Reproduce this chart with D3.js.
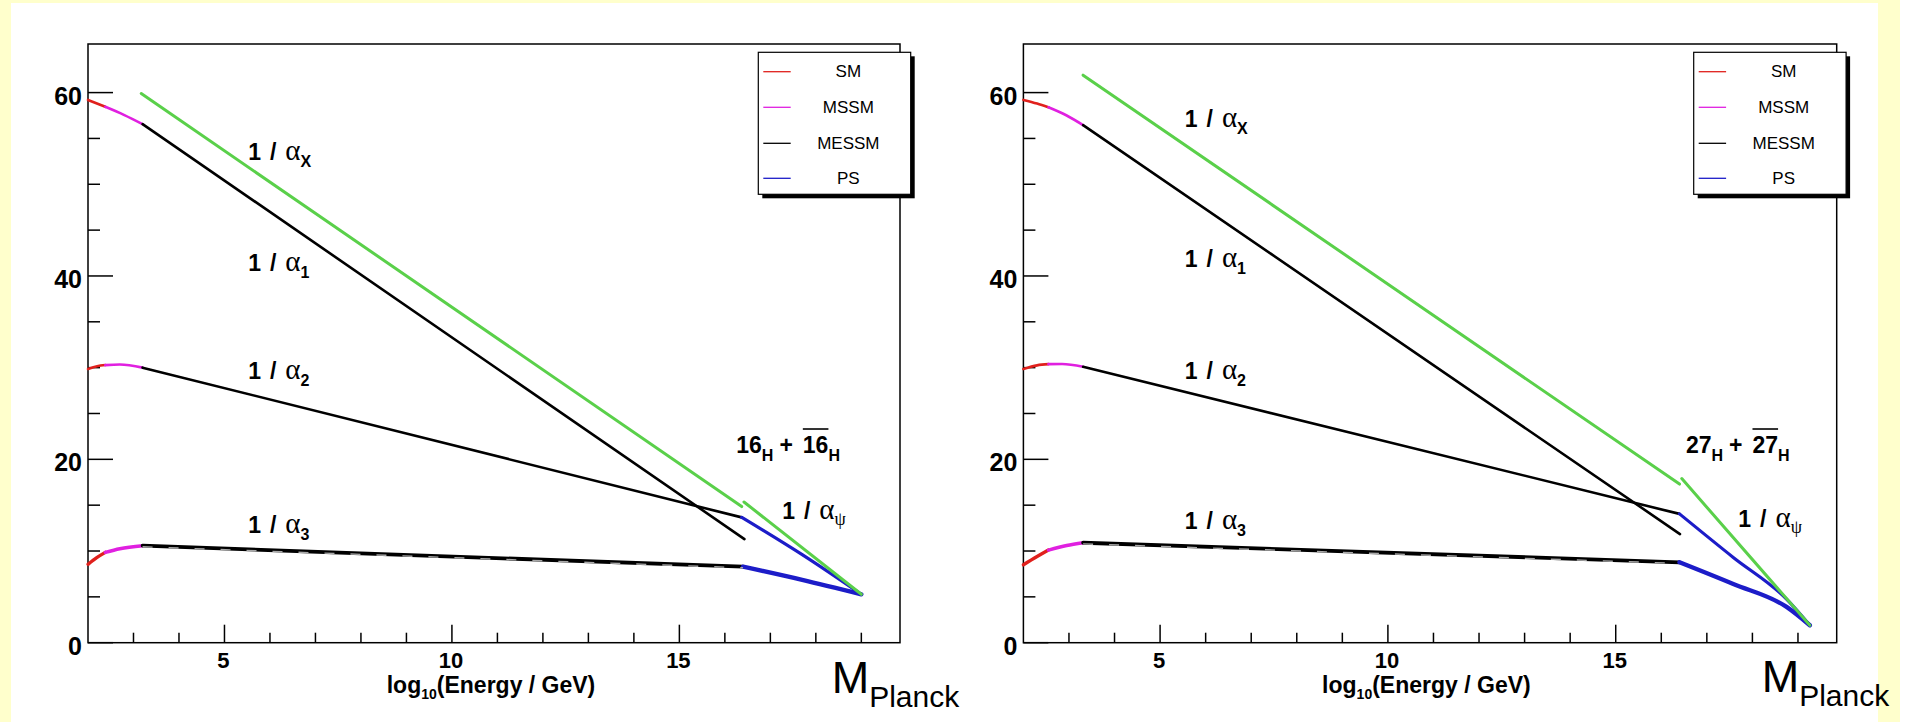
<!DOCTYPE html>
<html><head><meta charset="utf-8">
<script src="https://cdn.jsdelivr.net/npm/d3@7"></script>
<style>body{margin:0;background:#ffffcc;} svg{display:block}</style>
</head><body><svg id="c" width="1909" height="722"></svg>
<script>
// ---------- data ----------
const xDomain = [2, 19.85];
const yDomain = [0, 65.3];
const xMajorTicks = [5, 10, 15];
const xMinorTicks = [3,4,6,7,8,9,11,12,13,14,16,17,18,19];
const yMajorTicks = [0, 20, 40, 60];
const yMinorTicks = [5,10,15,25,30,35,45,50,55];
const legendLabels = ["SM", "MSSM", "MESSM", "PS"];
const regimeColors = {SM:"#e0201c", MSSM:"#e020e0", MESSM:"#000000", PS:"#1c1cc8"};
const greenColor = "#5ad04a";

// left panel (16_H + 16bar_H)
const L_a1_SM    = [[2.0,59.2],[2.38,58.45]];
const L_a1_MSSM  = [[2.38,58.45],[2.8,57.55],[3.2,56.56]];
const L_a1_MESSM = [[3.2,56.56],[16.43,11.3]];
const L_a2_SM    = [[2.0,29.85],[2.2,30.15],[2.38,30.28]];
const L_a2_MSSM  = [[2.38,30.28],[2.7,30.35],[3.2,30.0]];
const L_a2_MESSM = [[3.2,30.0],[16.37,13.67]];
const L_a2_PS    = [[16.37,13.67],[17.7,9.6],[19.0,5.28]];
const L_a3_SM    = [[2.0,8.55],[2.2,9.3],[2.38,9.85]];
const L_a3_MSSM  = [[2.38,9.85],[2.7,10.25],[3.2,10.58]];
const L_a3_MESSM = [[3.2,10.58],[16.4,8.29]];
const L_a3_PS    = [[16.4,8.29],[17.7,6.85],[19.0,5.28]];
const L_aX_low   = [[3.17,59.9],[16.37,14.85]];
const L_aX_high  = [[16.42,15.35],[19.0,5.28]];

// right panel (27_H + 27bar_H)
const R_a1_SM    = [[2.0,59.2],[2.3,58.8],[2.55,58.4]];
const R_a1_MSSM  = [[2.55,58.4],[2.95,57.5],[3.31,56.45]];
const R_a1_MESSM = [[3.31,56.45],[16.41,11.85]];
const R_a2_SM    = [[2.0,29.85],[2.3,30.25],[2.55,30.38]];
const R_a2_MSSM  = [[2.55,30.38],[2.85,30.4],[3.31,30.1]];
const R_a2_MESSM = [[3.31,30.1],[16.4,14.05]];
const R_a2_PS    = [[16.4,14.05],[17.58,9.3],[18.75,4.75],[19.26,1.9]];
const R_a3_SM    = [[2.0,8.5],[2.3,9.4],[2.55,10.1]];
const R_a3_MSSM  = [[2.55,10.1],[2.95,10.6],[3.31,10.9]];
const R_a3_MESSM = [[3.31,10.9],[16.4,8.77]];
const R_a3_PS    = [[16.4,8.77],[17.58,6.4],[18.75,3.9],[19.26,1.9]];
const R_aX_low   = [[3.31,61.9],[16.40,17.3]];
const R_aX_high  = [[16.45,17.9],[19.26,1.9]];

const couplingSubs = ["X", "1", "2", "3"];
const higgsLeft = "16";
const higgsRight = "27";

// ---------- drawing ----------
const svg = d3.select("#c");
const SANS = "'Liberation Sans', Arial, Helvetica, sans-serif";
const SERIF = "'Liberation Serif', 'Times New Roman', serif";

svg.append("rect").attr("x",0).attr("y",0).attr("width",1909).attr("height",722).attr("fill","#ffffcc");
svg.append("rect").attr("x",11).attr("y",3).attr("width",1867).attr("height",719).attr("fill","#ffffff");
svg.append("rect").attr("x",1900).attr("y",0).attr("width",9).attr("height",722).attr("fill","#ffffff");

const panels = [
  { x0:88, x1:900, higgs:higgsLeft,
    curves:{a1:[["SM",L_a1_SM],["MSSM",L_a1_MSSM],["MESSM",L_a1_MESSM]],
            a2:[["SM",L_a2_SM],["MSSM",L_a2_MSSM],["MESSM",L_a2_MESSM],["PS",L_a2_PS]],
            a3:[["SM",L_a3_SM],["MSSM",L_a3_MSSM],["MESSM",L_a3_MESSM],["PS",L_a3_PS]],
            aX:[L_aX_low, L_aX_high]},
    labelX:5.52, labelY:[52.65, 40.54, 28.76, 11.97],
    higgsPos:[16.25, 20.69], psiPos:[17.26, 13.49], mX:831.7, mY:693 },
  { x0:1023.4, x1:1836.7, higgs:higgsRight,
    curves:{a1:[["SM",R_a1_SM],["MSSM",R_a1_MSSM],["MESSM",R_a1_MESSM]],
            a2:[["SM",R_a2_SM],["MSSM",R_a2_MSSM],["MESSM",R_a2_MESSM],["PS",R_a2_PS]],
            a3:[["SM",R_a3_SM],["MSSM",R_a3_MSSM],["MESSM",R_a3_MESSM],["PS",R_a3_PS]],
            aX:[R_aX_low, R_aX_high]},
    labelX:5.54, labelY:[56.3, 41.0, 28.76, 12.43],
    higgsPos:[16.54, 20.69], psiPos:[17.69, 12.62], mX:1761.7, mY:692 }
];

const yBottom = 642.7, yTop = 44;

function couplingText(g, px, py, sub, subIsGreek) {
  const t = g.append("text").attr("x",px).attr("y",py)
    .attr("font-family",SANS).attr("font-weight","bold").attr("font-size",23);
  t.append("tspan").text("1");
  t.append("tspan").attr("dx",9).text("/");
  t.append("tspan").attr("dx",9).attr("font-family",SERIF).attr("font-weight","normal").attr("font-size",29).text("α");
  if (subIsGreek) {
    t.append("tspan").attr("font-family",SERIF).attr("font-weight","normal").attr("font-size",18).attr("dy",6).text(sub);
  } else {
    t.append("tspan").attr("font-size",16).attr("dy",7).text(sub);
  }
}

panels.forEach(p => {
  const x = d3.scaleLinear().domain(xDomain).range([p.x0, p.x1]);
  const y = d3.scaleLinear().domain(yDomain).range([yBottom, yTop]);
  const g = svg.append("g");
  const line = d3.line().x(d => x(d[0])).y(d => y(d[1])).curve(d3.curveMonotoneX);

  // frame
  g.append("rect").attr("x",p.x0).attr("y",yTop).attr("width",p.x1-p.x0).attr("height",yBottom-yTop)
    .attr("fill","none").attr("stroke","#000").attr("stroke-width",1.5);

  // ticks
  g.selectAll(".ymaj").data(yMajorTicks).join("line")
    .attr("x1",p.x0).attr("x2",p.x0+25).attr("y1",d=>y(d)).attr("y2",d=>y(d)).attr("stroke","#000").attr("stroke-width",1.5);
  g.selectAll(".ymin").data(yMinorTicks).join("line")
    .attr("x1",p.x0).attr("x2",p.x0+12).attr("y1",d=>y(d)).attr("y2",d=>y(d)).attr("stroke","#000").attr("stroke-width",1.5);
  g.selectAll(".xmaj").data(xMajorTicks).join("line")
    .attr("x1",d=>x(d)).attr("x2",d=>x(d)).attr("y1",yBottom).attr("y2",yBottom-18).attr("stroke","#000").attr("stroke-width",1.5);
  g.selectAll(".xmin").data(xMinorTicks).join("line")
    .attr("x1",d=>x(d)).attr("x2",d=>x(d)).attr("y1",yBottom).attr("y2",yBottom-10).attr("stroke","#000").attr("stroke-width",1.5);

  // tick labels
  g.selectAll(".ylab").data(yMajorTicks).join("text")
    .attr("x",p.x0-6).attr("y",d=>y(d)+3).attr("dominant-baseline","central").attr("text-anchor","end")
    .attr("font-family",SANS).attr("font-weight","bold").attr("font-size",25).text(d=>d);
  g.selectAll(".xlab").data(xMajorTicks).join("text")
    .attr("x",d=>x(d)-1).attr("y",668).attr("text-anchor","middle")
    .attr("font-family",SANS).attr("font-weight","bold").attr("font-size",22).text(d=>d);

  // axis title
  const at = g.append("text").attr("x",p.x0+403).attr("y",693).attr("text-anchor","middle")
    .attr("font-family",SANS).attr("font-weight","bold").attr("font-size",23);
  at.append("tspan").text("log");
  at.append("tspan").attr("font-size",14).attr("dy",6).text("10");
  at.append("tspan").attr("dy",-6).text("(Energy / GeV)");

  // curves
  const drawReg = (segs, w) => segs.forEach(([reg, pts]) => {
    g.append("path").attr("d",line(pts)).attr("fill","none").attr("stroke",regimeColors[reg])
      .attr("stroke-width", w[reg]).attr("stroke-linecap","round");
  });
  drawReg(p.curves.a1, {SM:2.6, MSSM:2.6, MESSM:2.6, PS:3});
  drawReg(p.curves.a2, {SM:2.6, MSSM:2.6, MESSM:2.6, PS:3.2});
  drawReg(p.curves.a3, {SM:3.4, MSSM:3.4, MESSM:3.8, PS:4.4});
  // grey dashed overlay on alpha3 MESSM segment
  const a3m = p.curves.a3[2][1];
  g.append("path").attr("d",line(a3m.map(d=>[d[0], d[1]-0.12]))).attr("fill","none")
    .attr("stroke","#a8a8a8").attr("stroke-width",1.4).attr("stroke-dasharray","10,16");
  p.curves.aX.forEach(pts => {
    g.append("path").attr("d",line(pts)).attr("fill","none").attr("stroke",greenColor)
      .attr("stroke-width",3).attr("stroke-linecap","round");
  });

  // coupling labels
  couplingSubs.forEach((s,i) => couplingText(g, x(p.labelX), y(p.labelY[i]), s, false));
  couplingText(g, x(p.psiPos[0]), y(p.psiPos[1]), "ψ", true);

  // higgs label
  {
    const t = g.append("text").attr("x",x(p.higgsPos[0])).attr("y",y(p.higgsPos[1]))
      .attr("font-family",SANS).attr("font-weight","bold").attr("font-size",23);
    t.append("tspan").text(p.higgs);
    t.append("tspan").attr("font-size",16).attr("dy",8).text("H");
    t.append("tspan").attr("dy",-8).attr("dx",6).text("+");
    t.append("tspan").attr("dx",10).text(p.higgs);
    t.append("tspan").attr("font-size",16).attr("dy",8).text("H");
    const n = t.node();
    const i0 = p.higgs.length + 1 + 1;
    const xs = n.getStartPositionOfChar(i0).x;
    const xe = n.getEndPositionOfChar(i0 + p.higgs.length - 1).x;
    g.append("line").attr("x1",xs).attr("x2",xe).attr("y1",y(p.higgsPos[1])-24).attr("y2",y(p.higgsPos[1])-24)
      .attr("stroke","#000").attr("stroke-width",1.6);
  }

  // legend
  const lg = g.append("g").attr("transform",`translate(${p.x0+670.3},52.3)`);
  lg.append("rect").attr("x",4).attr("y",4).attr("width",152.4).attr("height",142).attr("fill","#000");
  lg.append("rect").attr("x",0).attr("y",0).attr("width",152.4).attr("height",142).attr("fill","#fff")
    .attr("stroke","#000").attr("stroke-width",1.2);
  const rowY = [19.4, 55, 91, 126];
  legendLabels.forEach((lab,i) => {
    lg.append("line").attr("x1",5).attr("x2",32.4).attr("y1",rowY[i]).attr("y2",rowY[i])
      .attr("stroke",regimeColors[lab]).attr("stroke-width",1.3);
    lg.append("text").attr("x",90).attr("y",rowY[i]).attr("dominant-baseline","central").attr("text-anchor","middle")
      .attr("font-family",SANS).attr("font-size",17).text(lab);
  });

  // M_Planck
  const mt = svg.append("text").attr("x",p.mX).attr("y",p.mY).attr("font-family",SANS).attr("font-size",45);
  mt.append("tspan").text("M");
  mt.append("tspan").attr("font-size",30).attr("dy",14).text("Planck");
});
</script></body></html>
